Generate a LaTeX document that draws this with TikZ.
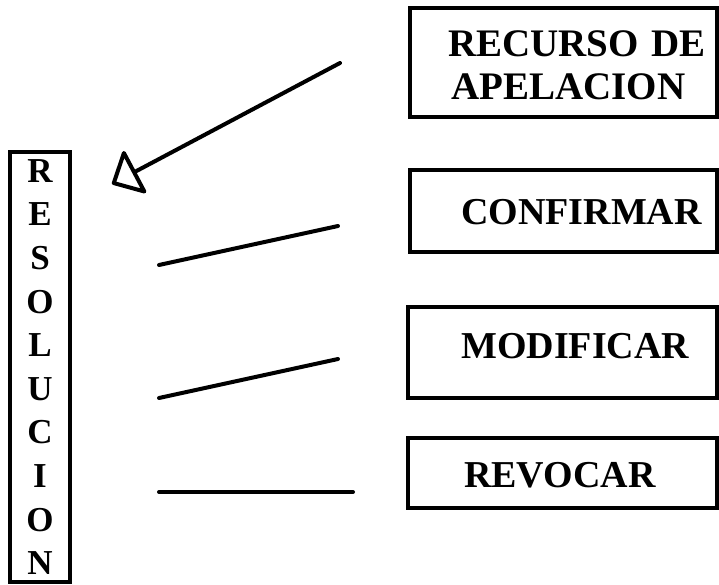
\documentclass[tikz,border=0pt]{standalone}
\usepackage{fontspec}
\setmainfont{Liberation Serif}
\usetikzlibrary{arrows.meta}
\begin{document}
\begin{tikzpicture}[x=1pt,y=-1pt,
  box/.style={draw, line width=3.2pt, inner sep=0pt},
  lbl/.style={inner sep=0pt, anchor=base west, font=\bfseries\fontsize{38}{43}\selectfont},
  conn/.style={line width=4pt, line cap=round},
  openhead/.style={-{Triangle[open, length=28pt, width=52pt, line join=round]}}]
  \useasboundingbox (0,0) rectangle (719,585);

  % vertical box with the word spelled downwards
  \node[box, minimum width=60pt, minimum height=430pt, align=center,
        font=\bfseries\fontsize{35}{43.6}\selectfont] (res) at (40,367)
        {R\\E\\S\\O\\L\\U\\C\\I\\O\\N};

  % boxes on the right
  \node[box, minimum width=307pt, minimum height=109pt] (recurso) at (563.5,62.5) {};
  \node[box, minimum width=307pt, minimum height=82pt] (confirmar) at (563.5,211) {};
  \node[box, minimum width=309pt, minimum height=91pt] (modificar) at (562.5,352.5) {};
  \node[box, minimum width=309pt, minimum height=70pt] (revocar) at (562.5,473) {};

  % box captions
  \node[lbl, font=\bfseries\fontsize{39}{43}\selectfont] (recursoA) at (448,57) {RECURSO\hspace{3pt} DE};
  \node[lbl, font=\bfseries\fontsize{39}{43}\selectfont] (recursoB) at (451,100) {APELACION};
  \node[lbl] (confirmarT) at (461,225) {CONFIRMAR};
  \node[lbl] (modificarT) at (461,358) {MODIFICAR};
  \node[lbl] (revocarT) at (464,487) {REVOCAR};

  % connector end points
  \coordinate (aStart) at (340,63);
  \coordinate (aEnd) at (112,184);
  \coordinate (cL) at (159,265);
  \coordinate (cR) at (338,226);
  \coordinate (mL) at (159,398);
  \coordinate (mR) at (338,359);
  \coordinate (rL) at (159,492);
  \coordinate (rR) at (353,492);

  % connectors
  \draw[conn, openhead] (aStart) -- (aEnd);
  \draw[conn] (cL) -- (cR);
  \draw[conn] (mL) -- (mR);
  \draw[conn] (rL) -- (rR);
\end{tikzpicture}
\end{document}
